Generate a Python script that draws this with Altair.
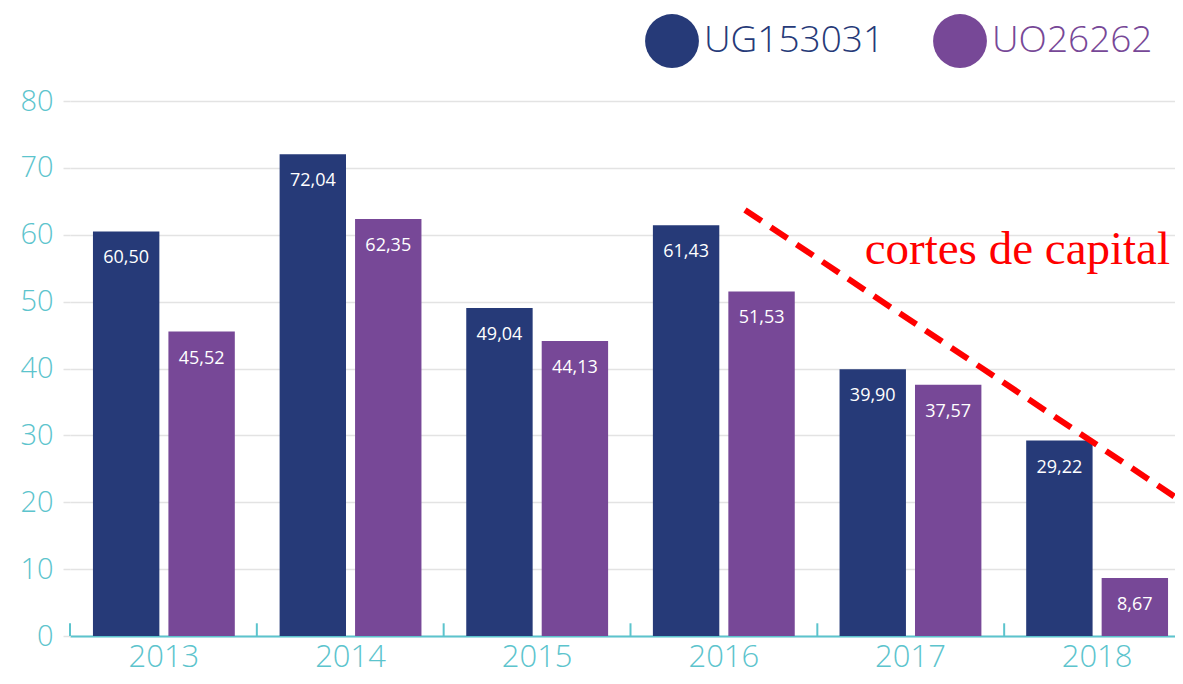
import altair as alt
import pandas as pd

years = ["2013", "2014", "2015", "2016", "2017", "2018"]
series = ["UG153031", "UO26262"]
ug_values = [60.50, 72.04, 49.04, 61.43, 39.90, 29.22]
uo_values = [45.52, 62.35, 44.13, 51.53, 37.57, 8.67]
ug_labels = ["60,50", "72,04", "49,04", "61,43", "39,90", "29,22"]
uo_labels = ["45,52", "62,35", "44,13", "51,53", "37,57", "8,67"]
colors = ["#263a78", "#774897"]

trend_x = [3.616, 5.946]
trend_y = [63.7, 20.3]
note_text = ["cortes de capital"]
note_x = [5.893]
note_y = [55.6]

TEAL = "#5cc4cd"
FONT = "Open Sans"
XR = [0, 1121]

rows = []
for i, y in enumerate(years):
    rows.append({"year": y, "series": series[0], "value": ug_values[i], "label": ug_labels[i]})
    rows.append({"year": y, "series": series[1], "value": uo_values[i], "label": uo_labels[i]})
df = pd.DataFrame(rows)
df_years = pd.DataFrame({"year": years})
df_trend = pd.DataFrame({"x": trend_x, "y": trend_y})
df_note = pd.DataFrame({"x": note_x, "y": note_y, "t": note_text})

PI, PO = 0.24, 0.123
xscale = alt.Scale(domain=years, paddingInner=PI, paddingOuter=PO, range=XR)
yscale = alt.Scale(domain=[0, 80])

x_enc = alt.X(
    "year:N", scale=xscale, sort=years, title=None,
    axis=alt.Axis(labelAngle=0, labelFontSize=31, labelColor=TEAL, labelFont=FONT,
                  labelFontWeight=300, ticks=False, domainColor=TEAL, domainWidth=2,
                  labelPadding=6, grid=False),
)
y_enc = alt.Y(
    "value:Q", scale=yscale, title=None,
    axis=alt.Axis(values=[0, 10, 20, 30, 40, 50, 60, 70, 80], labelFontSize=29,
                  labelColor=TEAL, labelFont=FONT, labelFontWeight=300, ticks=True,
                  tickSize=7, tickColor="#e3e3e3", tickWidth=1.5,
                  domain=False, grid=True, gridColor="#e3e3e3", gridWidth=1.5,
                  labelPadding=10),
)
xoff = alt.XOffset("series:N", sort=series, scale=alt.Scale(domain=series, paddingInner=0.12))

bars = alt.Chart(df).mark_bar().encode(
    x=x_enc,
    xOffset=xoff,
    y=y_enc,
    color=alt.Color(
        "series:N", scale=alt.Scale(domain=series, range=colors),
        legend=alt.Legend(
            title=None, orient="none", legendX=575, legendY=-87, direction="horizontal",
            symbolType="circle", symbolSize=2900, symbolStrokeWidth=0, symbolOpacity=1,
            labelFontSize=37, labelFont=FONT, labelFontWeight=300, labelOffset=5,
            labelLimit=400, columnPadding=48,
            labelColor={"expr": "datum.value == 'UG153031' ? '#263a78' : '#774897'"},
        ),
    ),
)

labels = alt.Chart(df).mark_text(color="white", fontSize=18, font=FONT, dy=27).encode(
    x=alt.X("year:N", scale=xscale, sort=years),
    xOffset=xoff,
    y=alt.Y("value:Q", scale=yscale),
    text="label:N",
)

base = alt.layer(bars, labels)

ticks = alt.Chart(df_years).mark_rule(color=TEAL, strokeWidth=2).encode(
    x=alt.X("year:N", scale=alt.Scale(domain=years, paddingInner=0, paddingOuter=0, range=XR),
            sort=years, bandPosition=0, axis=None),
    y=alt.datum(0),
    y2=alt.datum(1.9),
)

qx = alt.Scale(domain=[0, 6], range=[0, 1120])
trend = alt.Chart(df_trend).mark_line(color="#ff0000", strokeWidth=6, strokeDash=[20, 11], strokeCap="butt").encode(
    x=alt.X("x:Q", scale=qx, axis=None),
    y=alt.Y("y:Q", scale=yscale),
)
note = alt.Chart(df_note).mark_text(color="#ff0000", fontSize=47, font="Liberation Serif",
                                    align="right", baseline="alphabetic").encode(
    x=alt.X("x:Q", scale=qx, axis=None),
    y=alt.Y("y:Q", scale=yscale),
    text="t:N",
)

chart = alt.layer(base, ticks, alt.layer(trend, note)).resolve_scale(x="independent").properties(
    width=1105, height=535,
    autosize=alt.AutoSizeParams(type="none"),
    padding={"left": 62, "top": 93, "right": 0, "bottom": 40},
).configure_view(stroke=None)

chart.save("out.html", embed_options={"renderer": "svg", "actions": False})
